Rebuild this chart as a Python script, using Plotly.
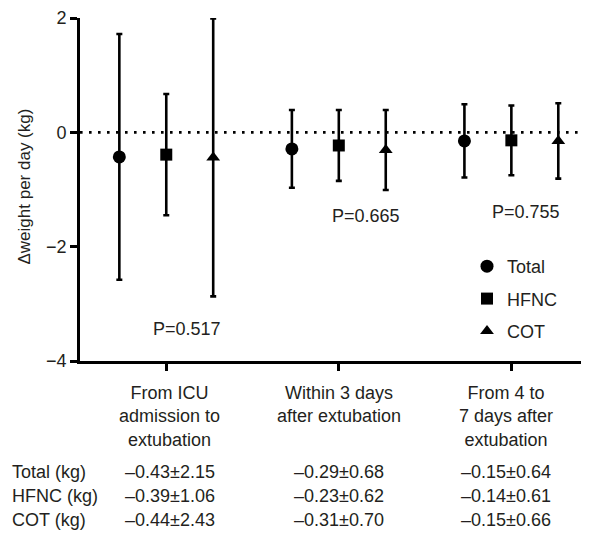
import plotly.graph_objects as go

# ---- data ----
categories = ["From ICU<br>admission to<br>extubation",
              "Within 3 days<br>after extubation",
              "From 4 to<br>7 days after<br>extubation"]
series_names = ["Total", "HFNC", "COT"]
total_mean = [-0.43, -0.29, -0.15]
total_sd = [2.15, 0.68, 0.64]
hfnc_mean = [-0.39, -0.23, -0.14]
hfnc_sd = [1.06, 0.62, 0.61]
cot_mean = [-0.44, -0.31, -0.15]
cot_sd = [2.43, 0.70, 0.66]
p_values = ["P=0.517", "P=0.665", "P=0.755"]
row_labels = ["Total (kg)", "HFNC (kg)", "COT (kg)"]
y_ticks = [-4, -2, 0, 2]

# ---- layout geometry (page body has an 8px margin) ----
OFF = 8
W, H = 589 - OFF, 536 - OFF
PL, PR, PT, PB = 80, 589, 15, 361          # plot area in window pixels
L, T = PL - OFF, PT - OFF
R = (W + OFF) - PR
B = (H + OFF) - PB
PH = PB - PT
PW = PR - PL
FONT = "Liberation Sans, Arial, Helvetica, sans-serif"
TXT = "#231f20"
centers = [1, 2, 3]
offsets = [-0.272, 0.0, 0.272]
markers = ["circle", "square", "triangle-up"]
msizes = [13, 12, 12]


def py(px):
    return (PB - px) / PH


def pxx(px):
    return (px - PL) / PW


def fmt(m, s):
    return ("–" if m < 0 else "") + f"{abs(m):.2f}±{s:.2f}"


means = [total_mean, hfnc_mean, cot_mean]
sds = [total_sd, hfnc_sd, cot_sd]

fig = go.Figure()
for i, name in enumerate(series_names):
    fig.add_trace(go.Scatter(
        x=[c + offsets[i] for c in centers], y=means[i], name=name,
        mode="markers", legendgroup=name,
        marker=dict(symbol=markers[i], size=msizes[i], color="black"),
        error_y=dict(type="data", array=sds[i], visible=True,
                     color="black", thickness=2.6, width=3),
    ))

fig.add_shape(type="line", xref="paper", yref="y", x0=0, x1=1, y0=0, y1=0,
              line=dict(color="black", width=2.6, dash="2.6px,6.4px"), layer="below")

ann = []
p_pos = [(1.12, -3.445), (2.157, -1.47), (3.087, -1.40)]
for (xp, yp), t in zip(p_pos, p_values):
    ann.append(dict(x=xp, y=yp, xref="x", yref="y", text=t, showarrow=False,
                    xanchor="center", yanchor="middle",
                    font=dict(size=18, color=TXT, family=FONT)))
col_x = [1.02, 2.0, 2.97]
for j, c in enumerate(categories):
    ann.append(dict(x=col_x[j], y=py(381), xref="x", yref="paper", text=c,
                    showarrow=False, xanchor="center", yanchor="top", align="center",
                    font=dict(size=18, color=TXT, family=FONT)))
row_y = [473, 497, 521]
for r in range(3):
    ann.append(dict(x=pxx(10), y=py(row_y[r]), xref="paper", yref="paper",
                    text=row_labels[r], showarrow=False, xanchor="left", yanchor="middle",
                    font=dict(size=18, color=TXT, family=FONT)))
    for j in range(3):
        ann.append(dict(x=col_x[j], y=py(row_y[r]), xref="x", yref="paper",
                        text=fmt(means[r][j], sds[r][j]), showarrow=False,
                        xanchor="center", yanchor="middle",
                        font=dict(size=18, color=TXT, family=FONT)))
ann.append(dict(x=pxx(25), y=py(185), xref="paper", yref="paper",
                text="Δweight per day (kg)", textangle=-90, showarrow=False,
                xanchor="center", yanchor="middle",
                font=dict(size=17, color=TXT, family=FONT)))

fig.update_layout(
    width=W, height=H, margin=dict(l=L, r=R, t=T, b=B, pad=0),
    plot_bgcolor="white", paper_bgcolor="white",
    font=dict(family=FONT, size=18, color=TXT),
    annotations=ann,
    showlegend=True,
    legend=dict(x=pxx(467), y=py(247), xanchor="left", yanchor="top",
                bgcolor="rgba(0,0,0,0)", tracegroupgap=6, traceorder="grouped",
                font=dict(size=18, color=TXT, family=FONT)),
    xaxis=dict(range=[0.5, 3.45], tickvals=centers, showticklabels=False,
               ticks="outside", ticklen=7, tickwidth=2.6, tickcolor="black",
               showline=True, linewidth=2.6, linecolor="black",
               showgrid=False, zeroline=False),
    yaxis=dict(range=[-4, 2], tickvals=y_ticks, ticks="outside", ticklen=7,
               tickwidth=2.6, tickcolor="black", showline=True, linewidth=2.6,
               linecolor="black", showgrid=False, zeroline=False,
               ticklabeloverflow="allow",
               tickfont=dict(size=18, color=TXT, family=FONT)),
)

fig.write_html("out.html")
